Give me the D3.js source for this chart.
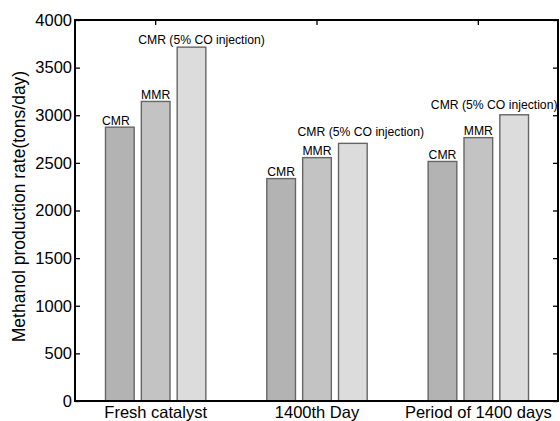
<!DOCTYPE html>
<html>
<head>
<meta charset="utf-8">
<script src="https://cdn.jsdelivr.net/npm/d3@7"></script>
<style>
  body { margin: 0; background: #fff; }
  svg { display: block; font-family: "Liberation Sans", Arial, Helvetica, sans-serif; }
</style>
</head>
<body>
<svg id="chart"></svg>
<script>
// Data
const categories = ["Fresh catalyst", "1400th Day", "Period of 1400 days"];
const seriesNames = ["CMR", "MMR", "CMR (5% CO injection)"];
const cmrValues = [2875, 2335, 2515];
const mmrValues = [3145, 2555, 2765];
const coValues = [3715, 2705, 3005];
const yTicks = [0, 500, 1000, 1500, 2000, 2500, 3000, 3500, 4000];

const width = 560;
const height = 421;
const marginTop = 20;
const marginRight = 1;
const marginBottom = 20;
const marginLeft = 75;

const seriesValues = [cmrValues, mmrValues, coValues];
const rows = categories.flatMap((c, i) =>
    seriesNames.map((s, j) => ({ cat: c, series: s, value: seriesValues[j][i] })));

const color = d3.scaleOrdinal()
    .domain(seriesNames)
    .range(["#b3b3b3", "#c3c3c3", "#dcdcdc"]);

// Outer scale: one band per group, group centre = tick position
const x = d3.scaleBand()
    .domain(categories)
    .range([marginLeft, width - marginRight])
    .padding(0);

// Inner scale: three bars filling 2/3 of the group step
const groupWidth = x.bandwidth() * 2 / 3;
const xInner = d3.scaleBand()
    .domain(seriesNames)
    .range([0, groupWidth])
    .paddingInner(0.2)
    .paddingOuter(0.1);

const y = d3.scaleLinear()
    .domain([0, 4000])
    .range([height - marginBottom, marginTop]);

const svg = d3.select("#chart")
    .attr("width", width)
    .attr("height", height)
    .attr("viewBox", [0, 0, width, height]);

const barX = d => x(d.cat) + (x.bandwidth() - groupWidth) / 2 + xInner(d.series);

// Axes (ticks pointing inward, box style)
svg.append("g")
    .attr("transform", `translate(${marginLeft},0)`)
    .call(d3.axisLeft(y).tickValues(yTicks).tickFormat(d3.format("d")).tickSize(-5).tickPadding(3).tickSizeOuter(0))
    .attr("font-family", null)
    .call(g => g.select(".domain").remove())
    .call(g => g.selectAll("line").attr("stroke", "#000").attr("stroke-width", 1.3))
    .call(g => g.selectAll("text").attr("font-size", 16.5).attr("fill", "#000"));

svg.append("g")
    .attr("transform", `translate(${width - marginRight - 1},0)`)
    .call(d3.axisRight(y).tickValues(yTicks).tickSize(-5).tickFormat(""))
    .call(g => g.select(".domain").remove())
    .call(g => g.selectAll("line").attr("stroke", "#000").attr("stroke-width", 1.3));

svg.append("g")
    .attr("transform", `translate(0,${marginTop})`)
    .call(d3.axisTop(x).tickSize(-5).tickFormat(""))
    .call(g => g.select(".domain").remove())
    .call(g => g.selectAll("line").attr("stroke", "#000").attr("stroke-width", 1.3));

// Bars
svg.append("g")
    .selectAll("rect")
    .data(rows)
    .join("rect")
      .attr("x", d => barX(d))
      .attr("y", d => y(d.value))
      .attr("width", xInner.bandwidth())
      .attr("height", d => y(0) - y(d.value))
      .attr("fill", d => color(d.series))
      .attr("stroke", "#666")
      .attr("stroke-width", 1.4);

// Bar labels, small nudges for the long ones as placed in the figure
const nudge = { 
    "Fresh catalyst|CMR (5% CO injection)": [10, -1],
    "1400th Day|CMR (5% CO injection)": [8, -5],
    "Period of 1400 days|CMR (5% CO injection)": [-20, -3],
    "Fresh catalyst|CMR": [-4, 0]
};
svg.append("g")
    .selectAll("text")
    .data(rows)
    .join("text")
      .attr("x", d => barX(d) + xInner.bandwidth() / 2 + (nudge[d.cat + "|" + d.series] || [0, 0])[0])
      .attr("y", d => y(d.value) - 2.5 + (nudge[d.cat + "|" + d.series] || [0, 0])[1])
      .attr("text-anchor", "middle")
      .attr("font-size", 12.2)
      .text(d => d.series);

// Box frame
svg.append("rect")
    .attr("x", marginLeft)
    .attr("y", marginTop)
    .attr("width", width - marginRight - marginLeft - 1)
    .attr("height", height - marginBottom - marginTop)
    .attr("fill", "none")
    .attr("stroke", "#000")
    .attr("stroke-width", 2);

// Category labels
svg.append("g")
    .selectAll("text")
    .data(categories)
    .join("text")
      .attr("x", d => x(d) + x.bandwidth() / 2)
      .attr("y", height - 3)
      .attr("text-anchor", "middle")
      .attr("font-size", 16.5)
      .text(d => d);

// Y axis title
svg.append("text")
    .attr("transform", `translate(25,${(y(0) + y(4000)) / 2 - 4}) rotate(-90)`)
    .attr("text-anchor", "middle")
    .attr("font-size", 17.5)
    .text("Methanol production rate(tons/day)");
</script>
</body>
</html>
